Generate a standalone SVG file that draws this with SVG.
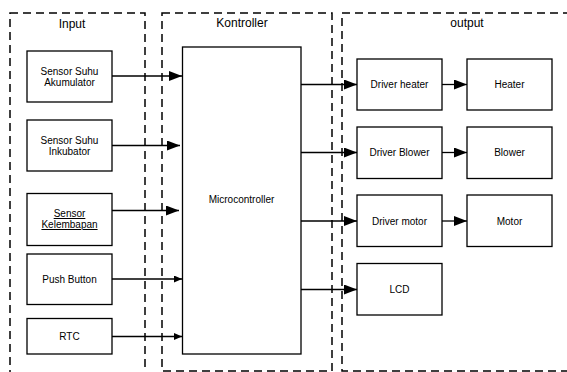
<svg xmlns="http://www.w3.org/2000/svg" width="567" height="372" viewBox="0 0 567 372">
<style>
.grp{fill:none;stroke:#000;stroke-width:1.5;stroke-dasharray:8 5}
.box{fill:#fff;stroke:#000;stroke-width:1.3}
.t{font-family:"Liberation Sans",Arial,sans-serif;font-size:10px;fill:#000;text-anchor:middle}
.h{font-family:"Liberation Sans",Arial,sans-serif;font-size:12px;fill:#000;text-anchor:middle}
.c{fill:none;stroke:#000;stroke-width:1.3}
</style>
<defs>
<marker id="big" markerUnits="userSpaceOnUse" markerWidth="14" markerHeight="10" refX="13" refY="5" orient="auto"><path d="M0,0 L13,5 L0,10 Z" fill="#000"/></marker>
<marker id="small" markerUnits="userSpaceOnUse" markerWidth="9" markerHeight="7" refX="8" refY="3.5" orient="auto"><path d="M0,0 L8,3.5 L0,7 Z" fill="#000"/></marker>
</defs>
<g id="groups">
<rect id="grp-input" class="grp" x="10" y="13" width="135" height="366"/>
<rect id="grp-kontroller" class="grp" x="162" y="13" width="170" height="358"/>
<rect id="grp-output" class="grp" x="342" y="13" width="240" height="358"/>
<text class="h" x="72" y="28">Input</text>
<text class="h" x="242" y="27">Kontroller</text>
<text class="h" x="467" y="27">output</text>
</g>
<g id="connectors">
<path class="c" d="M112,76 H182" marker-end="url(#big)"/>
<path class="c" d="M112,145.5 H180" marker-end="url(#big)"/>
<path class="c" d="M112,210.5 H179" marker-end="url(#big)"/>
<path class="c" d="M112,279 H182" marker-end="url(#small)"/>
<path class="c" d="M112,336.5 H182" marker-end="url(#small)"/>
<path class="c" d="M301,84.5 H357" marker-end="url(#big)"/>
<path class="c" d="M301,152.5 H357" marker-end="url(#big)"/>
<path class="c" d="M301,221 H357" marker-end="url(#big)"/>
<path class="c" d="M301,289.5 H357" marker-end="url(#big)"/>
<path class="c" d="M442,84.5 H467" marker-end="url(#big)"/>
<path class="c" d="M442,152.5 H467" marker-end="url(#big)"/>
<path class="c" d="M442,221 H467" marker-end="url(#big)"/>
</g>
<g id="sensor-akumulator"><rect class="box" x="27" y="51" width="85" height="51"/><text class="t" x="69.5" y="75">Sensor Suhu</text><text class="t" x="69.5" y="86">Akumulator</text></g>
<g id="sensor-inkubator"><rect class="box" x="27" y="120" width="85" height="51"/><text class="t" x="69.5" y="144">Sensor Suhu</text><text class="t" x="69.5" y="155">Inkubator</text></g>
<g id="sensor-kelembapan"><rect class="box" x="27" y="193.5" width="85" height="52"/><text class="t" x="69.5" y="217" text-decoration="underline">Sensor</text><text class="t" x="69.5" y="228" text-decoration="underline">Kelembapan</text></g>
<g id="push-button"><rect class="box" x="27" y="254" width="85" height="50.5"/><text class="t" x="69.5" y="282.5">Push Button</text></g>
<g id="rtc"><rect class="box" x="27" y="318.5" width="85" height="35.5"/><text class="t" x="69.5" y="339.5">RTC</text></g>
<g id="microcontroller"><rect class="box" x="182.5" y="47" width="118.5" height="307"/><text class="t" x="241.5" y="203">Microcontroller</text></g>
<g id="driver-heater"><rect class="box" x="357" y="59" width="85" height="51"/><text class="t" x="399.5" y="88">Driver heater</text></g>
<g id="heater"><rect class="box" x="467" y="59" width="85" height="51"/><text class="t" x="509.5" y="88">Heater</text></g>
<g id="driver-blower"><rect class="box" x="357" y="127" width="85" height="51.5"/><text class="t" x="399.5" y="156">Driver Blower</text></g>
<g id="blower"><rect class="box" x="467" y="127" width="85" height="51.5"/><text class="t" x="509.5" y="156">Blower</text></g>
<g id="driver-motor"><rect class="box" x="357" y="195" width="85" height="51.5"/><text class="t" x="399.5" y="224.5">Driver motor</text></g>
<g id="motor"><rect class="box" x="467" y="195" width="85" height="51.5"/><text class="t" x="509.5" y="224.5">Motor</text></g>
<g id="lcd"><rect class="box" x="357" y="263.5" width="85" height="51.5"/><text class="t" x="399.5" y="292.5">LCD</text></g>
</svg>
